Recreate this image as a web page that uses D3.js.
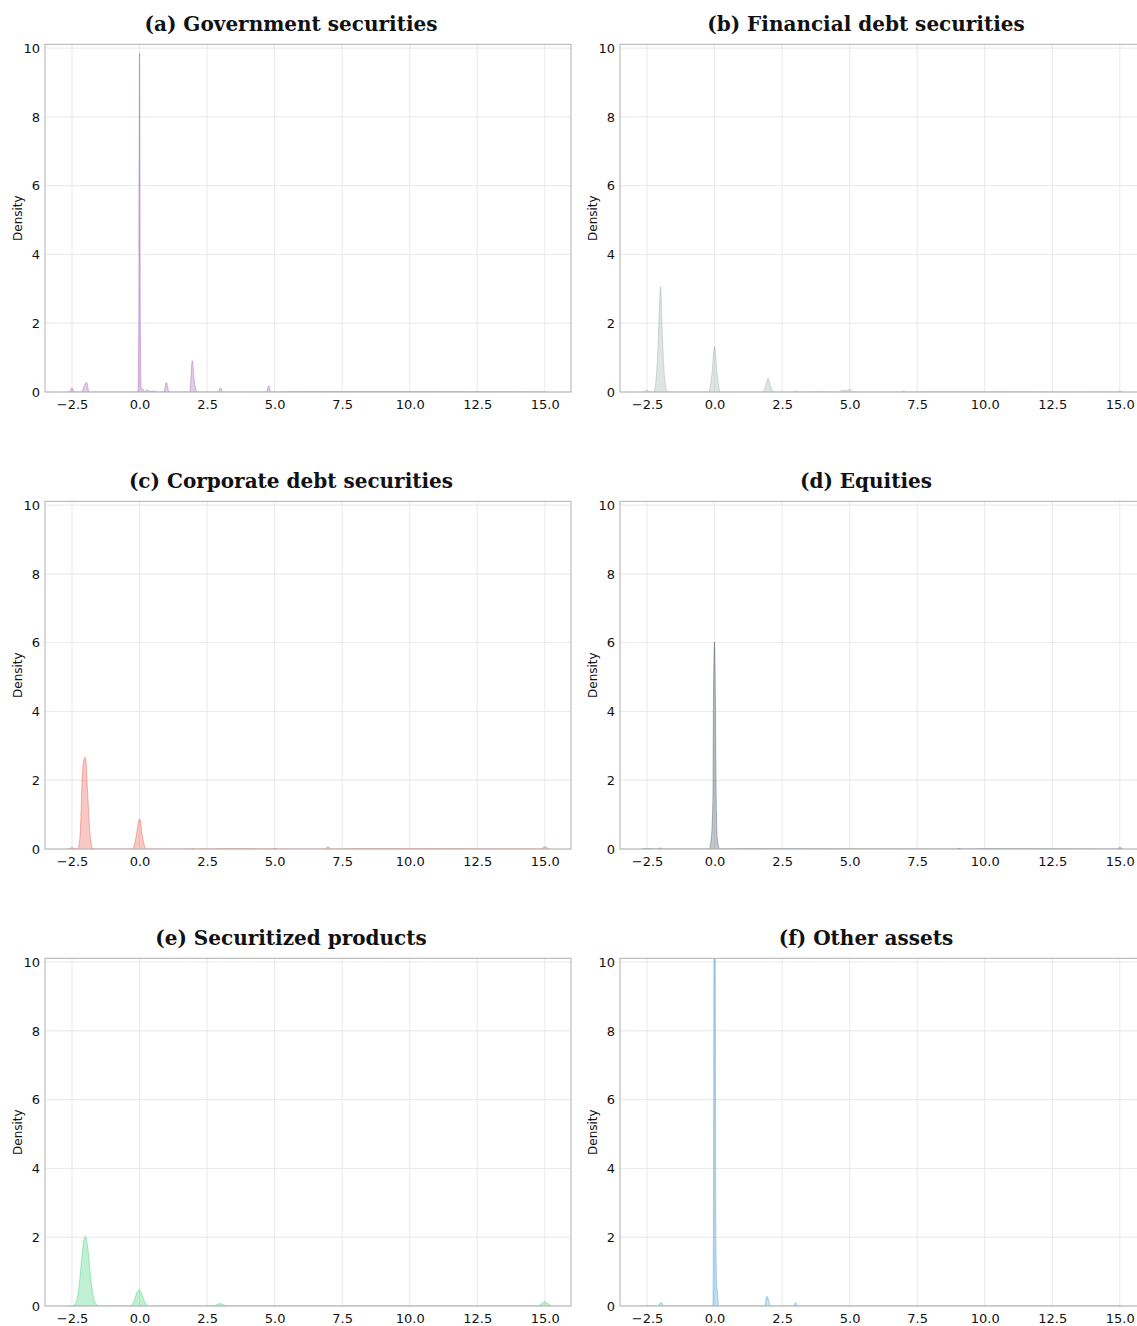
<!DOCTYPE html>
<html>
<head>
<meta charset="utf-8">
<script src="https://cdn.jsdelivr.net/npm/d3@7"></script>
<style>
  html, body { margin: 0; padding: 0; background: #ffffff; }
  svg { display: block; }
</style>
</head>
<body>
<svg id="chart" width="1137" height="1326"></svg>
<script>
// ---------- data ----------
const titles = [
  "(a) Government securities",
  "(b) Financial debt securities",
  "(c) Corporate debt securities",
  "(d) Equities",
  "(e) Securitized products",
  "(f) Other assets"
];
const colors = ["#9b59b6", "#95a5a6", "#e74c3c", "#34495e", "#2ecc71", "#3498db"];
const xTicks = [-2.5, 0, 2.5, 5, 7.5, 10, 12.5, 15];
const yTicks = [0, 2, 4, 6, 8, 10];

const govX = [-2.7,-2.6,-2.5,-2.42,-2.15,-2.03,-1.96,-1.87,-0.06,-0.03,0,0.03,0.06,0.12,0.18,0.29,0.38,0.52,0.62,0.9,0.99,1.09,1.86,1.95,2.03,2.14,2.92,3.0,3.08,4.7,4.78,4.86,5.7,6.0,10.0,15.1];
const govY = [0,0,0.12,0,0,0.2,0.28,0,0,2.0,9.85,2.0,0.1,0.08,0.01,0.06,0.01,0.03,0,0,0.28,0,0,0.91,0.3,0,0,0.12,0,0,0.18,0,0.01,0.01,0.01,0];

const finX = [-2.7,-2.6,-2.5,-2.4,-2.25,-2.15,-2.07,-2.0,-1.93,-1.85,-1.75,-0.22,-0.1,0,0.1,0.21,1.8,1.9,1.98,2.08,2.18,2.9,3.0,3.1,3.9,4.6,4.75,4.88,5.0,5.15,6.9,7.0,7.1,8.0,14.9,15.0,15.1];
const finY = [0,0,0.06,0,0,0.5,1.8,3.06,1.6,0.4,0,0,0.5,1.33,0.5,0,0,0.2,0.4,0.15,0,0,0.03,0,0.01,0,0.05,0.04,0.08,0,0,0.03,0,0.01,0,0.03,0];

const corpX = [-2.7,-2.62,-2.5,-2.35,-2.28,-2.2,-2.12,-2.06,-2.0,-1.92,-1.83,-1.72,-0.26,-0.13,-0.04,0.01,0.1,0.24,1.9,1.97,2.05,3.0,4.0,4.9,5.0,5.1,6.85,6.97,7.1,7.95,10.0,14.85,15.0,15.15];
const corpY = [0,0,0.04,0,0,0.4,2.1,2.6,2.67,1.6,0.4,0,0,0.35,0.8,0.87,0.4,0,0,0.02,0,0.01,0.01,0,0.02,0,0,0.06,0,0.01,0.01,0,0.06,0];

const eqX = [-2.7,-2.5,-2.1,-2.0,-1.9,-0.2,-0.12,-0.06,-0.04,0,0.03,0.06,0.1,0.19,1.0,8.95,9.05,9.15,10.0,14.9,15.0,15.1];
const eqY = [0,0.01,0,0.03,0,0,0.3,1.5,4.3,6.02,4.5,1.5,0.3,0,0.01,0,0.02,0,0.01,0,0.04,0];

const secX = [-2.7,-2.5,-2.35,-2.25,-2.15,-2.05,-2.0,-1.92,-1.82,-1.72,-1.6,-1.5,-0.35,-0.2,-0.08,0,0.1,0.22,0.35,1.9,2.0,2.1,2.75,2.95,3.15,3.3,4.9,5.0,5.1,14.75,14.9,15.0,15.1,15.25];
const secY = [0,0,0.1,0.5,1.3,1.95,2.02,1.7,0.9,0.3,0.05,0,0,0.15,0.42,0.47,0.3,0.08,0,0,0.01,0,0,0.07,0.02,0,0,0.01,0,0,0.08,0.125,0.08,0];

const othX = [-2.7,-2.55,-2.5,-2.4,-2.1,-1.98,-1.88,-0.06,-0.04,-0.02,0.02,0.05,0.08,0.11,0.15,1.85,1.94,2.04,2.1,2.92,3.0,3.08,14.95,15.0,15.05];
const othY = [0,0,0.01,0,0,0.1,0,0,3,10.6,10.6,2,0.6,0.4,0,0,0.28,0.05,0,0,0.1,0,0,0.02,0];

const seriesX = [govX, finX, corpX, eqX, secX, othX];
const seriesY = [govY, finY, corpY, eqY, secY, othY];

// ---------- layout ----------
const svg = d3.select("#chart");
const W = 526, H = 347.7;
const colLeft = [45, 620];
const rowTop = [44.3, 501.3, 958.3];

const x = d3.scaleLinear().domain([-3.5, 15.97]).range([0, W]);
const y = d3.scaleLinear().domain([0, 10.11]).range([H, 0]);

const fmtX = d => (d < 0 ? "\u2212" : "") + Math.abs(d).toFixed(1);

titles.forEach((t, i) => {
  const col = i % 2, row = Math.floor(i / 2);
  const g = svg.append("g").attr("transform", `translate(${colLeft[col]},${rowTop[row]})`);

  // grid
  g.append("g").selectAll("line").data(xTicks).join("line")
    .attr("x1", d => x(d)).attr("x2", d => x(d)).attr("y1", 0).attr("y2", H)
    .attr("stroke", "#e3e3e3").attr("stroke-width", 0.8);
  g.append("g").selectAll("line").data(yTicks).join("line")
    .attr("x1", 0).attr("x2", W).attr("y1", d => y(d)).attr("y2", d => y(d))
    .attr("stroke", "#e3e3e3").attr("stroke-width", 0.8);

  // clip
  const cid = "clip" + i;
  g.append("clipPath").attr("id", cid).append("rect").attr("width", W).attr("height", H);

  const pts = seriesX[i].map((v, k) => [v, seriesY[i][k]]);
  const area = d3.area().x(d => x(d[0])).y0(y(0)).y1(d => y(d[1])).curve(d3.curveMonotoneX);
  const line = d3.line().x(d => x(d[0])).y(d => y(d[1])).curve(d3.curveMonotoneX);
  const pg = g.append("g").attr("clip-path", `url(#${cid})`);
  pg.append("path").datum(pts).attr("d", area)
    .attr("fill", colors[i]).attr("fill-opacity", 0.3).attr("stroke", "none");
  pg.append("path").datum(pts).attr("d", line)
    .attr("fill", "none").attr("stroke", colors[i]).attr("stroke-opacity", 0.5).attr("stroke-width", 0.8);

  // frame
  g.append("rect").attr("width", W).attr("height", H)
    .attr("fill", "none").attr("stroke", "#b0b0b0").attr("stroke-width", 1);

  // axes
  const xa = g.append("g").attr("transform", `translate(0,${H})`)
    .call(d3.axisBottom(x).tickValues(xTicks).tickFormat(fmtX).tickSize(0).tickPadding(8));
  const ya = g.append("g")
    .call(d3.axisLeft(y).tickValues(yTicks).tickFormat(d3.format("d")).tickSize(0).tickPadding(5));
  [xa, ya].forEach(a => {
    a.select(".domain").remove();
    a.selectAll("text").attr("font-family", "DejaVu Sans").attr("font-size", 13).attr("fill", "#111");
  });

  // y label
  g.append("text").attr("transform", `translate(-23,${H / 2}) rotate(-90)`)
    .attr("text-anchor", "middle").attr("font-family", "DejaVu Sans").attr("font-size", 12)
    .attr("fill", "#111").text("Density");

  // title
  g.append("text").attr("x", 246).attr("y", -13)
    .attr("text-anchor", "middle").attr("font-family", "DejaVu Serif").attr("font-weight", "bold")
    .attr("font-size", 20).attr("fill", "#111").text(t);
});
</script>
</body>
</html>
